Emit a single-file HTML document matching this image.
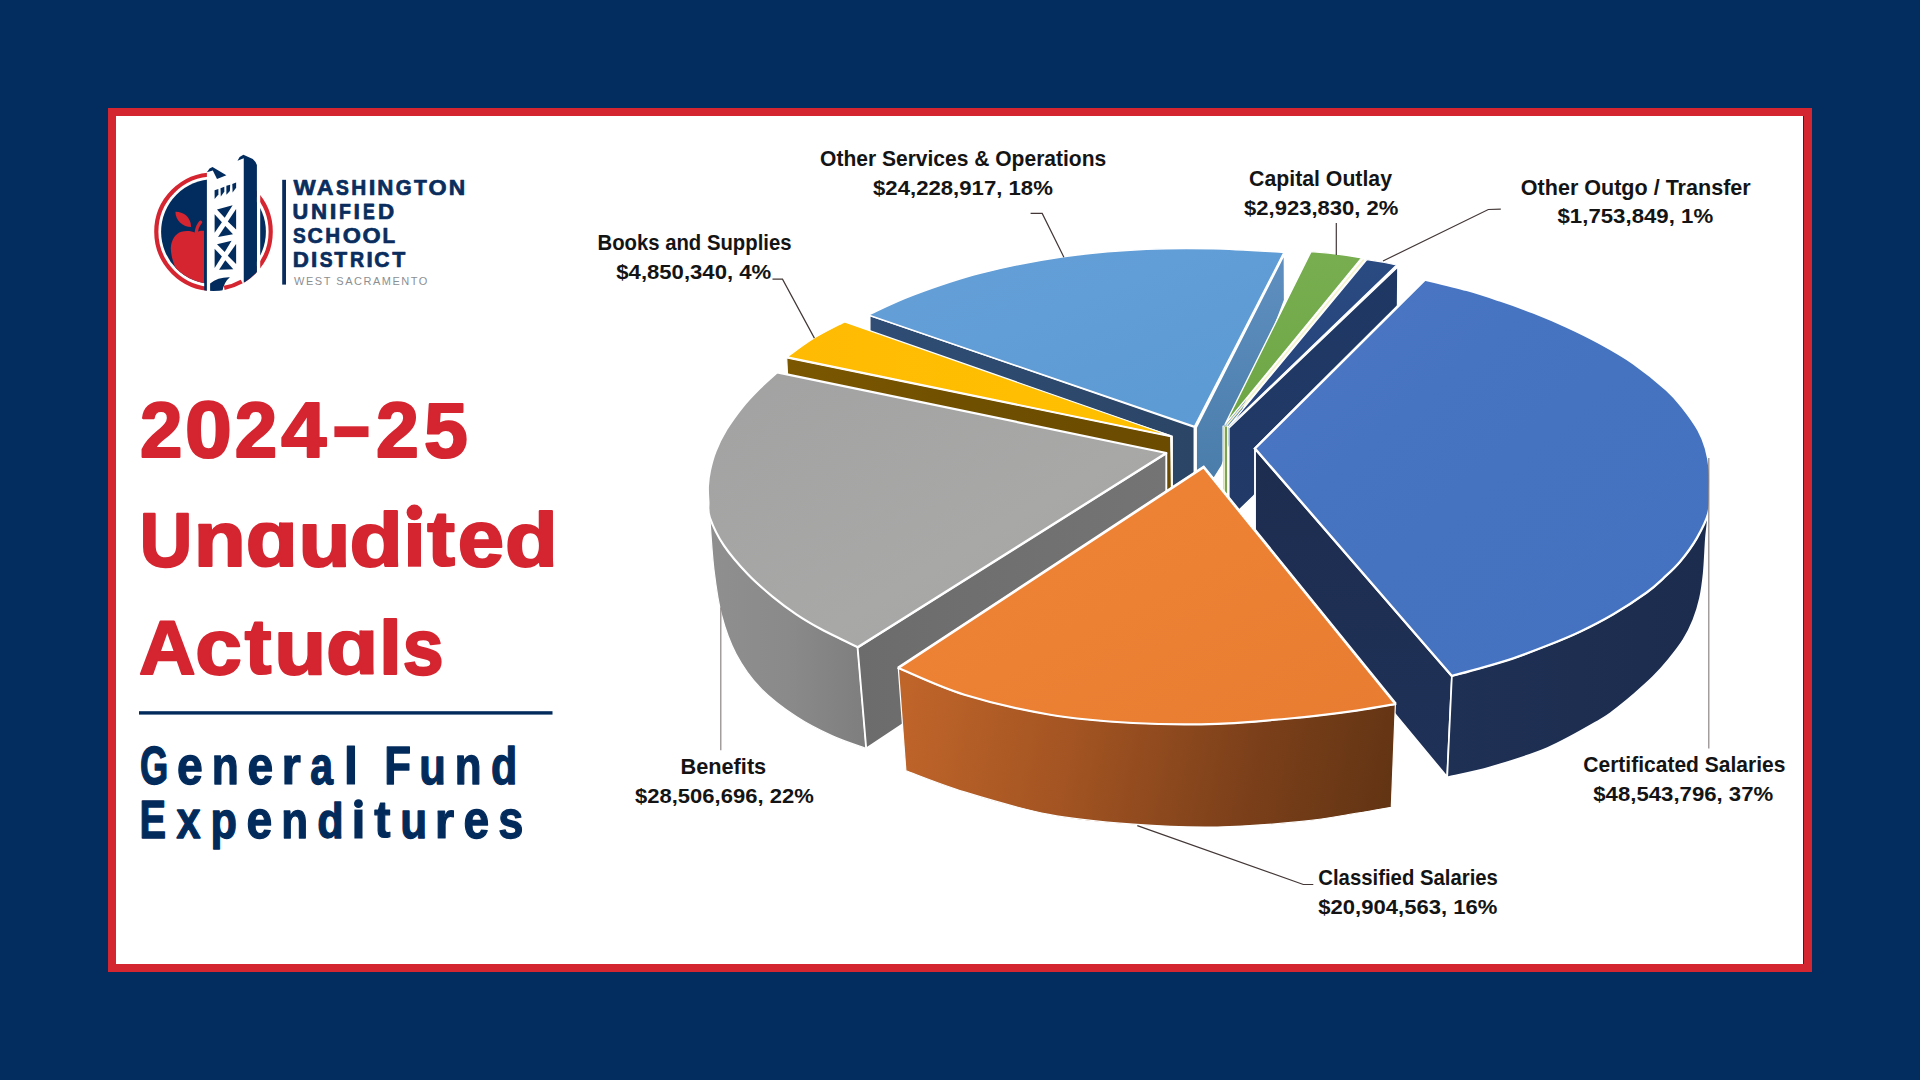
<!DOCTYPE html>
<html><head><meta charset="utf-8"><title>2024-25 Unaudited Actuals</title>
<style>
html,body{margin:0;padding:0}
body{width:1920px;height:1080px;overflow:hidden;background:#022d5e;position:relative;font-family:"Liberation Sans",sans-serif}
#frame{position:absolute;left:108px;top:108px;width:1704px;height:864px;background:#d42631}
#paper{position:absolute;left:116px;top:116px;width:1687px;height:848px;background:#fff}
#sliver{position:absolute;left:1803px;top:116px;width:1px;height:848px;background:#0b2f5f}
svg{position:absolute;left:0;top:0}
text{font-family:"Liberation Sans",sans-serif}
</style></head><body>
<div id="frame"></div><div id="paper"></div><div id="sliver"></div>
<svg width="1920" height="1080" viewBox="0 0 1920 1080">

<defs>
<linearGradient id="gLB" x1="0" y1="0" x2="1" y2="1"><stop offset="0" stop-color="#659fd8"/><stop offset="1" stop-color="#5b9ad4"/></linearGradient>
<linearGradient id="gSteel" x1="0" y1="0" x2="0" y2="1"><stop offset="0" stop-color="#5e8fc0"/><stop offset="1" stop-color="#4b7dab"/></linearGradient>
<linearGradient id="gLBdark" x1="0" y1="0" x2="1" y2="0"><stop offset="0" stop-color="#2f4d75"/><stop offset="1" stop-color="#2b4566"/></linearGradient>
<linearGradient id="gGR" x1="0" y1="0" x2="0" y2="1"><stop offset="0" stop-color="#78ae4f"/><stop offset="1" stop-color="#6ea646"/></linearGradient>
<linearGradient id="gDB" x1="0" y1="0" x2="0" y2="1"><stop offset="0" stop-color="#2a4a82"/><stop offset="1" stop-color="#25437a"/></linearGradient>
<linearGradient id="gDBside" x1="0" y1="0" x2="0" y2="1"><stop offset="0" stop-color="#1f3763"/><stop offset="1" stop-color="#213a67"/></linearGradient>
<linearGradient id="gBrown" x1="0" y1="0" x2="1" y2="0"><stop offset="0" stop-color="#7b5700"/><stop offset="0.5" stop-color="#6f4f00"/><stop offset="1" stop-color="#6a4b00"/></linearGradient>
<linearGradient id="gYL" x1="0" y1="0" x2="1" y2="0"><stop offset="0" stop-color="#ffbb04"/><stop offset="1" stop-color="#ffc000"/></linearGradient>
<linearGradient id="gGY" x1="0" y1="0" x2="1" y2="1"><stop offset="0" stop-color="#a2a2a2"/><stop offset="0.6" stop-color="#a8a8a7"/><stop offset="1" stop-color="#a3a3a3"/></linearGradient>
<linearGradient id="gGYrim" x1="0" y1="0" x2="1" y2="0"><stop offset="0" stop-color="#8f8f8f"/><stop offset="0.5" stop-color="#8a8a8a"/><stop offset="1" stop-color="#7e7e7e"/></linearGradient>
<linearGradient id="gGYcut" x1="0" y1="0" x2="1" y2="0"><stop offset="0" stop-color="#6c6c6c"/><stop offset="1" stop-color="#747474"/></linearGradient>
<linearGradient id="gBB" x1="0" y1="0" x2="1" y2="1"><stop offset="0" stop-color="#4b76c5"/><stop offset="0.5" stop-color="#4573bf"/><stop offset="1" stop-color="#4472c2"/></linearGradient>
<linearGradient id="gBBleft" x1="0" y1="0" x2="0" y2="1"><stop offset="0" stop-color="#1d2d50"/><stop offset="1" stop-color="#1f3157"/></linearGradient>
<linearGradient id="gBBrim" x1="0" y1="0" x2="1" y2="0"><stop offset="0" stop-color="#1e3054"/><stop offset="1" stop-color="#1c2c4e"/></linearGradient>
<linearGradient id="gOR" x1="0" y1="0" x2="1" y2="1"><stop offset="0" stop-color="#f08436"/><stop offset="1" stop-color="#e87c30"/></linearGradient>
<linearGradient id="gORrim" gradientUnits="userSpaceOnUse" x1="900" y1="700" x2="1395" y2="800"><stop offset="0" stop-color="#c0652a"/><stop offset="0.35" stop-color="#a35422"/><stop offset="0.7" stop-color="#7c401a"/><stop offset="1" stop-color="#623413"/></linearGradient>
</defs>

<g id="pie">
<path d="M1196.0,427.5L1284.6,253.5 L1284.8,300.0 L1222.0,466.0 L1214.4,478.0 L1196.0,478.0Z" fill="url(#gSteel)" stroke="#fff" stroke-width="1.9" stroke-linejoin="round" />
<path d="M869.6,315.0L1194.5,427.0 L1194.5,500.0 L1172.0,500.0 L1172.0,436.5 L869.6,335.0Z" fill="url(#gLBdark)" stroke="#fff" stroke-width="1.9" stroke-linejoin="round" />
<path d="M868.2,315.0C875.7,311.7 894.7,301.9 913.3,295.0 C931.9,288.1 955.0,279.7 980.0,273.3 C1005.0,266.9 1035.5,260.7 1063.3,256.7 C1091.1,252.7 1121.7,250.6 1146.7,249.3 C1171.7,248.0 1190.4,248.2 1213.3,248.7 C1236.2,249.2 1272.2,251.7 1284.0,252.3L1194.5,426.5Z" fill="url(#gLB)" stroke="#fff" stroke-width="1.5" stroke-linejoin="round" />
<path d="M1223.0,426.0L1227.6,426.0 L1227.6,495.0 L1223.0,495.0Z" fill="#79a555" stroke="#fff" stroke-width="1.1" stroke-linejoin="round" />
<rect x="1223.5" y="427" width="1.5" height="68" fill="#e3ecc4"/>
<path d="M1311.0,251.6Q1336,253 1361.6,257.9L1225.0,424.5Z" fill="url(#gGR)" stroke="#fff" stroke-width="1.4" stroke-linejoin="round" />
<path d="M1363.8,259.4 L1226.6,425.5" stroke="#f4f3c9" stroke-width="1.6" fill="none"/>
<path d="M1229.0,428.0L1397.8,267.0 L1397.4,307.5 L1253.0,496.5 L1229.0,519.5Z" fill="url(#gDBside)" stroke="#fff" stroke-width="1.2" stroke-linejoin="round" />
<path d="M1366.9,259.6Q1382,261.6 1396.6,265.0L1228.2,427.0Z" fill="url(#gDB)" stroke="#fff" stroke-width="1.2" stroke-linejoin="round" />
<path d="M786.7,358.0L1170.7,436.7 L1171.5,494.0 L1160.0,494.0 L788.1,386.0Z" fill="url(#gBrown)" stroke="#fff" stroke-width="1.2" stroke-linejoin="round" />
<path d="M844.6,321.9C839.7,324.5 824.6,331.8 815.0,337.6 C805.4,343.4 791.8,353.7 787.2,356.9L1170.5,435.8Z" fill="url(#gYL)" stroke="#fff" stroke-width="1.2" stroke-linejoin="round" />
<path d="M709.8,517.5C712.2,522.2 717.6,536.2 724.0,545.7 C730.4,555.2 740.1,566.2 748.1,574.6 C756.1,583.0 764.2,589.7 772.2,596.3 C780.2,602.9 788.3,608.9 796.3,614.3 C804.3,619.7 812.4,624.4 820.4,628.8 C828.4,633.2 838.2,637.7 844.4,640.8 C850.6,643.9 855.4,646.1 857.6,647.2L866.2,748.5C860.6,746.4 844.1,741.2 832.4,735.9 C820.7,730.6 808.3,724.6 796.3,716.6 C784.3,708.6 770.2,698.1 760.2,687.7 C750.2,677.3 742.5,666.0 736.1,654.0 C729.7,642.0 725.4,629.5 721.7,615.5 C718.0,601.5 716.0,586.3 714.0,570.0 C712.0,553.7 710.5,526.2 709.8,517.5Z" fill="url(#gGYrim)" stroke="#fff" stroke-width="1.2" stroke-linejoin="round" />
<path d="M857.6,647.7L1166.3,453.5 L1166.3,549.0 L866.2,748.5Z" fill="url(#gGYcut)" stroke="#fff" stroke-width="1.9" stroke-linejoin="round" />
<path d="M857.6,647.2C855.4,646.1 850.6,643.9 844.4,640.8 C838.2,637.7 828.4,633.2 820.4,628.8 C812.4,624.4 804.3,619.7 796.3,614.3 C788.3,608.9 780.2,602.9 772.2,596.3 C764.2,589.7 756.1,583.0 748.1,574.6 C740.1,566.2 730.4,555.2 724.0,545.7 C717.6,536.2 712.4,524.8 709.8,517.5 C707.2,510.2 708.7,506.9 708.4,501.7 C708.1,496.4 707.6,491.2 707.9,486.0 C708.2,480.8 708.7,476.0 710.0,470.2 C711.3,464.4 712.8,458.1 715.5,451.3 C718.2,444.5 722.0,436.7 726.5,429.3 C731.0,421.9 737.0,413.8 742.2,407.2 C747.5,400.6 752.2,395.7 758.0,389.9 C763.8,384.1 774.0,375.2 777.2,372.3L1166.3,453.0Z" fill="url(#gGY)" stroke="#fff" stroke-width="2.2" stroke-linejoin="round" />
<path d="M1254,449.5 L1425,281 L1423.2,279.2 L1253.3,448.4 Z" fill="#fff"/>
<path d="M1255.0,449.0L1452.0,676.5 L1447.2,777.2 L1255.0,545.0Z" fill="url(#gBBleft)" stroke="#fff" stroke-width="1.9" stroke-linejoin="round" />
<path d="M1451.9,675.9C1456.6,674.6 1469.8,671.2 1480.0,668.3 C1490.2,665.4 1502.2,662.0 1513.3,658.3 C1524.4,654.5 1535.6,650.2 1546.7,645.8 C1557.8,641.4 1568.9,637.0 1580.0,631.7 C1591.1,626.4 1602.2,620.7 1613.3,614.2 C1624.4,607.7 1638.4,598.5 1646.7,592.5 C1655.0,586.5 1657.8,583.4 1663.3,578.3 C1668.8,573.2 1674.4,568.4 1680.0,561.7 C1685.6,555.0 1692.0,546.4 1696.7,538.3 C1701.4,530.2 1706.4,517.5 1708.3,513.3C1708.1,515.2 1707.7,520.5 1707.3,525.0 C1706.9,529.5 1706.4,532.0 1705.8,540.0 C1705.2,548.0 1704.7,563.6 1703.7,573.3 C1702.7,583.0 1701.7,590.5 1700.0,598.3 C1698.3,606.1 1696.1,613.0 1693.3,620.0 C1690.5,627.0 1687.5,633.3 1683.3,640.0 C1679.1,646.7 1673.3,653.9 1668.3,660.0 C1663.3,666.1 1658.8,671.2 1653.3,676.7 C1647.8,682.2 1641.1,688.0 1635.0,693.3 C1628.9,698.6 1622.5,703.8 1616.7,708.3 C1610.9,712.8 1611.5,713.4 1600.0,720.0 C1588.5,726.6 1565.7,740.2 1547.5,748.0 C1529.3,755.8 1507.7,762.1 1491.0,767.0 C1474.3,771.9 1454.5,775.5 1447.2,777.2Z" fill="url(#gBBrim)" stroke="#fff" stroke-width="1.7" stroke-linejoin="round" />
<path d="M1255.0,448.5L1425.0,279.6C1432.0,281.3 1454.2,286.5 1466.7,290.0 C1479.2,293.5 1488.9,296.8 1500.0,300.5 C1511.1,304.2 1522.2,308.1 1533.3,312.5 C1544.4,316.9 1555.6,321.6 1566.7,326.7 C1577.8,331.8 1588.9,337.2 1600.0,343.3 C1611.1,349.4 1622.2,355.5 1633.3,363.3 C1644.4,371.1 1658.4,382.5 1666.7,390.0 C1675.0,397.5 1678.0,401.6 1683.3,408.3 C1688.6,415.0 1694.5,423.3 1698.3,430.0 C1702.0,436.7 1703.9,441.6 1705.8,448.3 C1707.7,455.0 1709.1,463.1 1709.8,470.0 C1710.5,476.9 1710.2,482.8 1710.0,490.0 C1709.8,497.2 1710.5,505.2 1708.3,513.3 C1706.1,521.3 1701.4,530.2 1696.7,538.3 C1692.0,546.4 1685.6,555.0 1680.0,561.7 C1674.4,568.4 1668.8,573.2 1663.3,578.3 C1657.8,583.4 1655.0,586.5 1646.7,592.5 C1638.4,598.5 1624.4,607.7 1613.3,614.2 C1602.2,620.7 1591.1,626.4 1580.0,631.7 C1568.9,637.0 1557.8,641.4 1546.7,645.8 C1535.6,650.2 1524.4,654.5 1513.3,658.3 C1502.2,662.0 1490.2,665.4 1480.0,668.3 C1469.8,671.2 1456.6,674.6 1451.9,675.9Z" fill="url(#gBB)" stroke="#fff" stroke-width="2.3" stroke-linejoin="round" />
<path d="M898.3,668.1 L1203.6,467.4 L1395.4,704.1" stroke="#fff" stroke-width="3.4" fill="none" stroke-linejoin="miter"/>
<path d="M898.3,668.1C909.3,672.5 939.3,687.1 964.4,694.8 C989.5,702.5 1020.6,709.8 1048.8,714.5 C1076.8,719.2 1104.9,721.5 1133.0,723.0 C1161.1,724.5 1189.3,724.8 1217.5,723.8 C1245.7,722.8 1278.5,719.5 1301.9,717.3 C1325.3,715.0 1342.4,712.5 1358.0,710.3 C1373.6,708.1 1389.2,705.1 1395.4,704.1L1391.3,807.3C1385.8,808.2 1372.9,810.6 1358.0,813.0 C1343.1,815.4 1325.3,819.1 1301.9,821.4 C1278.5,823.7 1245.7,826.5 1217.5,827.0 C1189.3,827.5 1161.1,826.3 1133.0,824.2 C1104.9,822.1 1076.8,819.8 1048.8,814.4 C1020.6,809.0 988.2,799.2 964.4,791.9 C940.6,784.6 915.6,774.3 905.9,770.8Z" fill="url(#gORrim)" stroke="#fff" stroke-width="1.2" stroke-linejoin="round" />
<path d="M1203.6,467.4L898.3,668.1C909.3,672.5 939.3,687.1 964.4,694.8 C989.5,702.5 1020.6,709.8 1048.8,714.5 C1076.8,719.2 1104.9,721.5 1133.0,723.0 C1161.1,724.5 1189.3,724.8 1217.5,723.8 C1245.7,722.8 1278.5,719.5 1301.9,717.3 C1325.3,715.0 1342.4,712.5 1358.0,710.3 C1373.6,708.1 1389.2,705.1 1395.4,704.1Z" fill="url(#gOR)" stroke="#fff" stroke-width="2.2" stroke-linejoin="round" />
</g>
<path d="M1030.6,213.4 L1042.2,213.4 L1063.9,257.2" fill="none" stroke="#433737" stroke-width="1.2"/>
<path d="M772.5,279.2 L782.5,279.2 L814.4,338.1" fill="none" stroke="#433737" stroke-width="1.2"/>
<path d="M1336.3,223 L1336.3,255" fill="none" stroke="#433737" stroke-width="1.2"/>
<path d="M1500.8,209.2 L1488.3,209.5 L1383,261" fill="none" stroke="#433737" stroke-width="1.2"/>
<path d="M720.8,607.5 L720.8,750.3" fill="none" stroke="#8d8585" stroke-width="1.2"/>
<path d="M1708.8,458 L1708.8,748.5" fill="none" stroke="#8d8585" stroke-width="1.2"/>
<path d="M1137.3,825.6 L1303.3,884.5 L1313.3,884.5" fill="none" stroke="#433737" stroke-width="1.2"/>
<text class="lbl" x="820.1" y="165.8" textLength="286.1" lengthAdjust="spacingAndGlyphs" font-size="22.3" font-weight="bold" fill="#141414">Other Services &amp; Operations</text>
<text class="lbl" x="873.0" y="195.0" textLength="179.9" lengthAdjust="spacingAndGlyphs" font-size="20.9" font-weight="bold" fill="#141414">$24,228,917, 18%</text>
<text class="lbl" x="597.5" y="250.3" textLength="194.0" lengthAdjust="spacingAndGlyphs" font-size="22.3" font-weight="bold" fill="#141414">Books and Supplies</text>
<text class="lbl" x="616.3" y="279.2" textLength="154.9" lengthAdjust="spacingAndGlyphs" font-size="20.9" font-weight="bold" fill="#141414">$4,850,340, 4%</text>
<text class="lbl" x="1249.1" y="186.3" textLength="142.9" lengthAdjust="spacingAndGlyphs" font-size="22.3" font-weight="bold" fill="#141414">Capital Outlay</text>
<text class="lbl" x="1244.1" y="215.0" textLength="154.3" lengthAdjust="spacingAndGlyphs" font-size="20.9" font-weight="bold" fill="#141414">$2,923,830, 2%</text>
<text class="lbl" x="1520.8" y="194.7" textLength="229.9" lengthAdjust="spacingAndGlyphs" font-size="22.3" font-weight="bold" fill="#141414">Other Outgo / Transfer</text>
<text class="lbl" x="1557.5" y="223.3" textLength="155.7" lengthAdjust="spacingAndGlyphs" font-size="20.9" font-weight="bold" fill="#141414">$1,753,849, 1%</text>
<text class="lbl" x="680.5" y="773.7" textLength="85.7" lengthAdjust="spacingAndGlyphs" font-size="22.3" font-weight="bold" fill="#141414">Benefits</text>
<text class="lbl" x="635.0" y="802.5" textLength="178.7" lengthAdjust="spacingAndGlyphs" font-size="20.9" font-weight="bold" fill="#141414">$28,506,696, 22%</text>
<text class="lbl" x="1583.3" y="771.7" textLength="202.1" lengthAdjust="spacingAndGlyphs" font-size="22.3" font-weight="bold" fill="#141414">Certificated Salaries</text>
<text class="lbl" x="1593.3" y="800.8" textLength="179.9" lengthAdjust="spacingAndGlyphs" font-size="20.9" font-weight="bold" fill="#141414">$48,543,796, 37%</text>
<text class="lbl" x="1318.3" y="884.7" textLength="179.6" lengthAdjust="spacingAndGlyphs" font-size="22.3" font-weight="bold" fill="#141414">Classified Salaries</text>
<text class="lbl" x="1318.3" y="913.7" textLength="179.1" lengthAdjust="spacingAndGlyphs" font-size="20.9" font-weight="bold" fill="#141414">$20,904,563, 16%</text>
<text transform="matrix(0.2355 0 0 0.2124 293.55 195.05)" font-size="100" font-weight="bold" fill="#0a2d5e" stroke="#0a2d5e" stroke-width="3.13" stroke-linejoin="round">W</text>
<text transform="matrix(0.2328 0 0 0.2124 316.67 195.05)" font-size="100" font-weight="bold" fill="#0a2d5e" stroke="#0a2d5e" stroke-width="3.14" stroke-linejoin="round">A</text>
<text transform="matrix(0.1925 0 0 0.2120 336.07 195.04)" font-size="100" font-weight="bold" fill="#0a2d5e" stroke="#0a2d5e" stroke-width="3.46" stroke-linejoin="round">S</text>
<text transform="matrix(0.2077 0 0 0.2124 351.15 195.05)" font-size="100" font-weight="bold" fill="#0a2d5e" stroke="#0a2d5e" stroke-width="3.33" stroke-linejoin="round">H</text>
<text transform="matrix(0.2386 0 0 0.2124 368.74 195.05)" font-size="100" font-weight="bold" fill="#0a2d5e" stroke="#0a2d5e" stroke-width="3.10" stroke-linejoin="round">I</text>
<text transform="matrix(0.2230 0 0 0.2124 377.34 195.05)" font-size="100" font-weight="bold" fill="#0a2d5e" stroke="#0a2d5e" stroke-width="3.22" stroke-linejoin="round">N</text>
<text transform="matrix(0.2044 0 0 0.2120 395.83 195.04)" font-size="100" font-weight="bold" fill="#0a2d5e" stroke="#0a2d5e" stroke-width="3.36" stroke-linejoin="round">G</text>
<text transform="matrix(0.2102 0 0 0.2124 413.94 195.05)" font-size="100" font-weight="bold" fill="#0a2d5e" stroke="#0a2d5e" stroke-width="3.31" stroke-linejoin="round">T</text>
<text transform="matrix(0.2331 0 0 0.2120 428.52 195.04)" font-size="100" font-weight="bold" fill="#0a2d5e" stroke="#0a2d5e" stroke-width="3.15" stroke-linejoin="round">O</text>
<text transform="matrix(0.2281 0 0 0.2124 448.81 195.05)" font-size="100" font-weight="bold" fill="#0a2d5e" stroke="#0a2d5e" stroke-width="3.18" stroke-linejoin="round">N</text>
<text transform="matrix(0.2174 0 0 0.2122 292.45 219.44)" font-size="100" font-weight="bold" fill="#0a2d5e" stroke="#0a2d5e" stroke-width="3.26" stroke-linejoin="round">U</text>
<text transform="matrix(0.2230 0 0 0.2124 311.04 219.45)" font-size="100" font-weight="bold" fill="#0a2d5e" stroke="#0a2d5e" stroke-width="3.22" stroke-linejoin="round">N</text>
<text transform="matrix(0.2386 0 0 0.2124 329.84 219.45)" font-size="100" font-weight="bold" fill="#0a2d5e" stroke="#0a2d5e" stroke-width="3.10" stroke-linejoin="round">I</text>
<text transform="matrix(0.1951 0 0 0.2124 339.03 219.45)" font-size="100" font-weight="bold" fill="#0a2d5e" stroke="#0a2d5e" stroke-width="3.44" stroke-linejoin="round">F</text>
<text transform="matrix(0.2316 0 0 0.2124 353.59 219.45)" font-size="100" font-weight="bold" fill="#0a2d5e" stroke="#0a2d5e" stroke-width="3.15" stroke-linejoin="round">I</text>
<text transform="matrix(0.1768 0 0 0.2124 362.96 219.45)" font-size="100" font-weight="bold" fill="#0a2d5e" stroke="#0a2d5e" stroke-width="3.60" stroke-linejoin="round">E</text>
<text transform="matrix(0.2237 0 0 0.2124 377.94 219.45)" font-size="100" font-weight="bold" fill="#0a2d5e" stroke="#0a2d5e" stroke-width="3.21" stroke-linejoin="round">D</text>
<text transform="matrix(0.1908 0 0 0.2163 292.98 243.23)" font-size="100" font-weight="bold" fill="#0a2d5e" stroke="#0a2d5e" stroke-width="3.44" stroke-linejoin="round">S</text>
<text transform="matrix(0.2122 0 0 0.2163 307.40 243.23)" font-size="100" font-weight="bold" fill="#0a2d5e" stroke="#0a2d5e" stroke-width="3.27" stroke-linejoin="round">C</text>
<text transform="matrix(0.2060 0 0 0.2167 325.26 243.25)" font-size="100" font-weight="bold" fill="#0a2d5e" stroke="#0a2d5e" stroke-width="3.31" stroke-linejoin="round">H</text>
<text transform="matrix(0.2331 0 0 0.2163 342.72 243.23)" font-size="100" font-weight="bold" fill="#0a2d5e" stroke="#0a2d5e" stroke-width="3.12" stroke-linejoin="round">O</text>
<text transform="matrix(0.2331 0 0 0.2163 362.42 243.23)" font-size="100" font-weight="bold" fill="#0a2d5e" stroke="#0a2d5e" stroke-width="3.12" stroke-linejoin="round">O</text>
<text transform="matrix(0.2068 0 0 0.2167 382.55 243.25)" font-size="100" font-weight="bold" fill="#0a2d5e" stroke="#0a2d5e" stroke-width="3.31" stroke-linejoin="round">L</text>
<text transform="matrix(0.2237 0 0 0.2160 292.64 267.40)" font-size="100" font-weight="bold" fill="#0a2d5e" stroke="#0a2d5e" stroke-width="3.18" stroke-linejoin="round">D</text>
<text transform="matrix(0.2246 0 0 0.2160 311.03 267.40)" font-size="100" font-weight="bold" fill="#0a2d5e" stroke="#0a2d5e" stroke-width="3.18" stroke-linejoin="round">I</text>
<text transform="matrix(0.1925 0 0 0.2155 319.67 267.38)" font-size="100" font-weight="bold" fill="#0a2d5e" stroke="#0a2d5e" stroke-width="3.43" stroke-linejoin="round">S</text>
<text transform="matrix(0.2110 0 0 0.2160 334.24 267.40)" font-size="100" font-weight="bold" fill="#0a2d5e" stroke="#0a2d5e" stroke-width="3.28" stroke-linejoin="round">T</text>
<text transform="matrix(0.1960 0 0 0.2160 350.03 267.40)" font-size="100" font-weight="bold" fill="#0a2d5e" stroke="#0a2d5e" stroke-width="3.40" stroke-linejoin="round">R</text>
<text transform="matrix(0.2246 0 0 0.2160 366.53 267.40)" font-size="100" font-weight="bold" fill="#0a2d5e" stroke="#0a2d5e" stroke-width="3.18" stroke-linejoin="round">I</text>
<text transform="matrix(0.2115 0 0 0.2155 374.20 267.38)" font-size="100" font-weight="bold" fill="#0a2d5e" stroke="#0a2d5e" stroke-width="3.28" stroke-linejoin="round">C</text>
<text transform="matrix(0.2136 0 0 0.2160 392.24 267.40)" font-size="100" font-weight="bold" fill="#0a2d5e" stroke="#0a2d5e" stroke-width="3.26" stroke-linejoin="round">T</text>
<text x="294.1" y="284.6" textLength="133.2" lengthAdjust="spacing" font-size="11.00" fill="#8c8f92">WEST SACRAMENTO</text>
<rect x="282.2" y="179.8" width="3.8" height="104.8" fill="#0a2d5e"/><clipPath id="cDisk"><circle cx="213.5" cy="231.7" r="52.4"/></clipPath><clipPath id="cOuter"><circle cx="213.5" cy="231.7" r="59.3"/></clipPath>
<circle cx="213.5" cy="231.7" r="57.2" fill="none" stroke="#d42530" stroke-width="4.2"/>
<circle cx="213.5" cy="231.7" r="52.4" fill="#022c5e"/>
<g clip-path="url(#cDisk)"><path d="M204,230.8 C201,230.6 198,231.2 195.1,232.8 C192,231 186,230.6 181.25,231.8 C176,233.5 171.5,239 170.8,247.8 C170.6,254 173,262 175.7,268.5 L180,300 L204,300 Z" fill="#d42530"/><path d="M175.4,211.8 C182,211.5 191,216 191.1,227.1 C183,227 175.5,221 175.4,211.8 Z" fill="#d42530"/><path d="M196.2,233 Q196.8,226.5 200.6,222.2" fill="none" stroke="#d42530" stroke-width="3.3" stroke-linecap="round"/></g>
<rect x="204.2" y="229" width="2.9" height="64" fill="#022c5e" clip-path="url(#cOuter)"/>
<rect x="206.9" y="165" width="37.6" height="130" fill="#fff"/>
<rect x="256.8" y="160" width="3.4" height="135" fill="#fff"/>
<path d="M243.75,158.3 L237.5,160.8 L239.6,157 L243.4,154.7 L252.8,159 L255.5,162 L256.9,165 L256.9,272.1 A59.3,59.3 0 0 1 243.75,282.7 Z" fill="#022c5e"/>
<polygon points="206.9,172.2 209.5,168.6 212.5,167.0 226.4,175.3 217.0,179.0 212.8,170.5" fill="#022c5e"/>
<polygon points="214.6,190.3 218.4,188.9 218.4,194.4 214.6,199.0" fill="#022c5e"/>
<polygon points="220.5,188.2 224.3,186.8 224.3,191.7 220.8,196.5" fill="#022c5e"/>
<polygon points="226.4,185.8 230.2,184.7 229.9,191.0 226.4,194.8" fill="#022c5e"/>
<polygon points="232.3,184.0 236.1,182.6 236.1,187.8 232.6,192.4" fill="#022c5e"/>
<polygon points="217.0,209.4 232.6,205.2 224.7,217.7" fill="#022c5e"/>
<polygon points="214.6,214.2 221.9,222.2 214.6,232.8" fill="#022c5e"/>
<polygon points="236.1,209.0 236.1,229.4 227.8,221.5" fill="#022c5e"/>
<polygon points="225.3,225.9 233.0,234.2 218.0,237.0" fill="#022c5e"/>
<polygon points="217.0,244.3 231.6,240.8 224.7,251.9" fill="#022c5e"/>
<polygon points="214.6,248.8 221.9,256.5 214.6,267.9" fill="#022c5e"/>
<polygon points="236.1,244.0 236.1,264.1 227.8,255.8" fill="#022c5e"/>
<polygon points="225.3,260.3 233.3,269.3 219.1,269.7" fill="#022c5e"/>
<path d="M210.1,283.5 Q218,277 229.9,277.3 Q224,282 222.2,292 L210.1,292 Z" fill="#022c5e" clip-path="url(#cOuter)"/>
<path d="M241.7,281.5 A57.2,57.2 0 0 1 224.2,287.9" fill="none" stroke="#d42530" stroke-width="4.2"/>
<text transform="matrix(0.7627 0 0 0.7871 140.03 457.00)" font-size="100" font-weight="bold" fill="#d42530" stroke="#d42530" stroke-width="2.84" stroke-linejoin="round">2</text>
<text transform="matrix(0.8421 0 0 0.7887 184.93 457.11)" font-size="100" font-weight="bold" fill="#d42530" stroke="#d42530" stroke-width="2.70" stroke-linejoin="round">0</text>
<text transform="matrix(0.7627 0 0 0.7871 234.73 457.00)" font-size="100" font-weight="bold" fill="#d42530" stroke="#d42530" stroke-width="2.84" stroke-linejoin="round">2</text>
<text transform="matrix(0.8112 0 0 0.7724 281.18 457.00)" font-size="100" font-weight="bold" fill="#d42530" stroke="#d42530" stroke-width="2.78" stroke-linejoin="round">4</text>
<text transform="matrix(0.7710 0 0 0.7871 375.90 457.00)" font-size="100" font-weight="bold" fill="#d42530" stroke="#d42530" stroke-width="2.82" stroke-linejoin="round">2</text>
<text transform="matrix(0.7859 0 0 0.7742 424.04 457.13)" font-size="100" font-weight="bold" fill="#d42530" stroke="#d42530" stroke-width="2.82" stroke-linejoin="round">5</text>
<text transform="matrix(0.7270 0 0 0.7670 139.84 566.03)" font-size="100" font-weight="bold" fill="#d42530" stroke="#d42530" stroke-width="2.95" stroke-linejoin="round">U</text>
<text transform="matrix(0.8515 0 0 0.7721 193.66 565.60)" font-size="100" font-weight="bold" fill="#d42530" stroke="#d42530" stroke-width="2.71" stroke-linejoin="round">n</text>
<clipPath id="ca1"><rect x="247.00" y="522.50" width="47.20" height="47.40"/></clipPath><g clip-path="url(#ca1)"><text transform="matrix(0.8515 0 0 0.7883 245.69 566.01)" font-size="100" font-weight="bold" fill="#d42530" stroke="#d42530" stroke-width="2.68" stroke-linejoin="round">d</text></g>
<text transform="matrix(0.8518 0 0 0.7833 298.38 566.02)" font-size="100" font-weight="bold" fill="#d42530" stroke="#d42530" stroke-width="2.69" stroke-linejoin="round">u</text>
<text transform="matrix(0.8733 0 0 0.7660 349.41 566.03)" font-size="100" font-weight="bold" fill="#d42530" stroke="#d42530" stroke-width="2.68" stroke-linejoin="round">d</text>
<circle cx="414.40" cy="512.40" r="7.80" fill="#d42530"/><rect x="408.00" y="523.00" width="13.00" height="43.70" fill="#d42530"/>
<text transform="matrix(0.8325 0 0 0.7789 427.26 564.82)" font-size="100" font-weight="bold" fill="#d42530" stroke="#d42530" stroke-width="2.73" stroke-linejoin="round">t</text>
<text transform="matrix(0.8332 0 0 0.7890 457.77 566.01)" font-size="100" font-weight="bold" fill="#d42530" stroke="#d42530" stroke-width="2.71" stroke-linejoin="round">e</text>
<text transform="matrix(0.8653 0 0 0.7660 505.04 566.03)" font-size="100" font-weight="bold" fill="#d42530" stroke="#d42530" stroke-width="2.70" stroke-linejoin="round">d</text>
<text transform="matrix(0.7836 0 0 0.7636 139.04 673.80)" font-size="100" font-weight="bold" fill="#d42530" stroke="#d42530" stroke-width="2.84" stroke-linejoin="round">A</text>
<text transform="matrix(0.8390 0 0 0.7836 195.34 673.72)" font-size="100" font-weight="bold" fill="#d42530" stroke="#d42530" stroke-width="2.71" stroke-linejoin="round">c</text>
<text transform="matrix(0.8000 0 0 0.7789 244.70 673.02)" font-size="100" font-weight="bold" fill="#d42530" stroke="#d42530" stroke-width="2.79" stroke-linejoin="round">t</text>
<text transform="matrix(0.8518 0 0 0.7777 274.28 673.72)" font-size="100" font-weight="bold" fill="#d42530" stroke="#d42530" stroke-width="2.70" stroke-linejoin="round">u</text>
<clipPath id="ca2"><rect x="327.20" y="630.50" width="47.40" height="47.10"/></clipPath><g clip-path="url(#ca2)"><text transform="matrix(0.8554 0 0 0.7828 325.88 673.72)" font-size="100" font-weight="bold" fill="#d42530" stroke="#d42530" stroke-width="2.69" stroke-linejoin="round">d</text></g>
<text transform="matrix(0.8218 0 0 0.7655 379.05 673.80)" font-size="100" font-weight="bold" fill="#d42530" stroke="#d42530" stroke-width="2.77" stroke-linejoin="round">l</text>
<text transform="matrix(0.7333 0 0 0.7836 402.83 673.72)" font-size="100" font-weight="bold" fill="#d42530" stroke="#d42530" stroke-width="2.90" stroke-linejoin="round">s</text>
<rect x="334.4" y="426.3" width="34.1" height="10.8" fill="#d42530"/><text transform="matrix(0.3630 0 0 0.5456 139.95 784.45)" font-size="100" font-weight="bold" fill="#022b5c" stroke="#022b5c" stroke-width="2.64" stroke-linejoin="round">G</text>
<text transform="matrix(0.4642 0 0 0.5297 177.04 784.47)" font-size="100" font-weight="bold" fill="#022b5c" stroke="#022b5c" stroke-width="2.41" stroke-linejoin="round">e</text>
<text transform="matrix(0.4433 0 0 0.5284 211.72 784.40)" font-size="100" font-weight="bold" fill="#022b5c" stroke="#022b5c" stroke-width="2.47" stroke-linejoin="round">n</text>
<text transform="matrix(0.4622 0 0 0.5297 247.55 784.47)" font-size="100" font-weight="bold" fill="#022b5c" stroke="#022b5c" stroke-width="2.42" stroke-linejoin="round">e</text>
<text transform="matrix(0.4968 0 0 0.5284 281.57 784.40)" font-size="100" font-weight="bold" fill="#022b5c" stroke="#022b5c" stroke-width="2.34" stroke-linejoin="round">r</text>
<text transform="matrix(0.4094 0 0 0.5297 310.17 784.47)" font-size="100" font-weight="bold" fill="#022b5c" stroke="#022b5c" stroke-width="2.56" stroke-linejoin="round">a</text>
<text transform="matrix(0.5164 0 0 0.5145 343.69 784.40)" font-size="100" font-weight="bold" fill="#022b5c" stroke="#022b5c" stroke-width="2.33" stroke-linejoin="round">l</text>
<text transform="matrix(0.4394 0 0 0.5425 384.33 784.40)" font-size="100" font-weight="bold" fill="#022b5c" stroke="#022b5c" stroke-width="2.44" stroke-linejoin="round">F</text>
<text transform="matrix(0.4352 0 0 0.5228 419.18 784.48)" font-size="100" font-weight="bold" fill="#022b5c" stroke="#022b5c" stroke-width="2.51" stroke-linejoin="round">u</text>
<text transform="matrix(0.4392 0 0 0.5284 454.85 784.40)" font-size="100" font-weight="bold" fill="#022b5c" stroke="#022b5c" stroke-width="2.48" stroke-linejoin="round">n</text>
<text transform="matrix(0.4297 0 0 0.5156 490.98 784.48)" font-size="100" font-weight="bold" fill="#022b5c" stroke="#022b5c" stroke-width="2.54" stroke-linejoin="round">d</text>
<text transform="matrix(0.3982 0 0 0.5338 139.41 837.90)" font-size="100" font-weight="bold" fill="#022b5c" stroke="#022b5c" stroke-width="2.58" stroke-linejoin="round">E</text>
<text transform="matrix(0.4315 0 0 0.5289 176.58 837.90)" font-size="100" font-weight="bold" fill="#022b5c" stroke="#022b5c" stroke-width="2.50" stroke-linejoin="round">x</text>
<text transform="matrix(0.4337 0 0 0.5191 210.48 837.63)" font-size="100" font-weight="bold" fill="#022b5c" stroke="#022b5c" stroke-width="2.52" stroke-linejoin="round">p</text>
<text transform="matrix(0.4642 0 0 0.5297 246.44 838.07)" font-size="100" font-weight="bold" fill="#022b5c" stroke="#022b5c" stroke-width="2.41" stroke-linejoin="round">e</text>
<text transform="matrix(0.4392 0 0 0.5265 281.25 837.90)" font-size="100" font-weight="bold" fill="#022b5c" stroke="#022b5c" stroke-width="2.49" stroke-linejoin="round">n</text>
<text transform="matrix(0.4317 0 0 0.5088 317.37 838.09)" font-size="100" font-weight="bold" fill="#022b5c" stroke="#022b5c" stroke-width="2.55" stroke-linejoin="round">d</text>
<circle cx="358.45" cy="803.65" r="4.45" fill="#022b5c"/><rect x="354.40" y="809.60" width="8.10" height="28.90" fill="#022b5c"/>
<text transform="matrix(0.4878 0 0 0.5132 374.19 837.39)" font-size="100" font-weight="bold" fill="#022b5c" stroke="#022b5c" stroke-width="2.40" stroke-linejoin="round">t</text>
<text transform="matrix(0.4415 0 0 0.5209 400.14 838.08)" font-size="100" font-weight="bold" fill="#022b5c" stroke="#022b5c" stroke-width="2.49" stroke-linejoin="round">u</text>
<text transform="matrix(0.5000 0 0 0.5265 434.65 837.90)" font-size="100" font-weight="bold" fill="#022b5c" stroke="#022b5c" stroke-width="2.34" stroke-linejoin="round">r</text>
<text transform="matrix(0.4622 0 0 0.5297 463.55 838.07)" font-size="100" font-weight="bold" fill="#022b5c" stroke="#022b5c" stroke-width="2.42" stroke-linejoin="round">e</text>
<text transform="matrix(0.4521 0 0 0.5297 498.22 838.07)" font-size="100" font-weight="bold" fill="#022b5c" stroke="#022b5c" stroke-width="2.44" stroke-linejoin="round">s</text>
<rect x="139" y="711.2" width="413.5" height="3.4" fill="#022b5c"/>
</svg>
</body></html>
